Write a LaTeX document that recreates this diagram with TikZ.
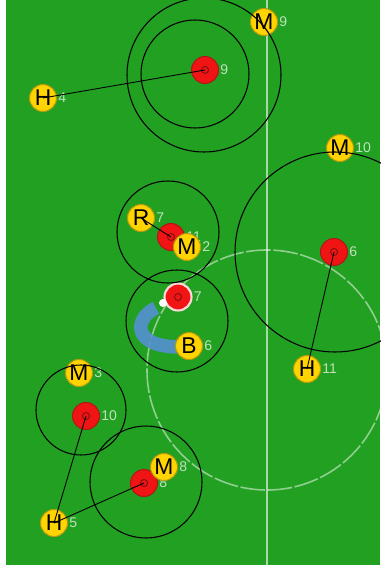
\documentclass[tikz,border=0pt]{standalone}
\usepackage{fontspec}
\usetikzlibrary{positioning}
\newfontfamily\plfont{Liberation Sans}

\definecolor{pitch}{HTML}{22A022}
\definecolor{redfill}{HTML}{F01414}
\definecolor{redborder}{HTML}{B01818}
\definecolor{yelfill}{HTML}{FFD400}
\definecolor{yelborder}{HTML}{B49A10}
\definecolor{bandblue}{HTML}{5490D2}

\begin{document}
\begin{tikzpicture}[x=0.02cm, y=-0.02cm,
    teama/.style={circle, draw=redborder, line width=0.6pt, fill=redfill,
                  minimum size=0.54cm, inner sep=0pt},
    teamb/.style={circle, draw=yelborder, line width=0.6pt, fill=yelfill,
                  minimum size=0.54cm, inner sep=0pt,
                  font=\plfont\fontsize{13}{13}\selectfont},
    num/.style={font=\plfont\fontsize{8}{8}\selectfont, text=white,
                text opacity=0.7, inner sep=0.5pt},
    zone/.style={draw=black, line width=0.6pt},
    link/.style={draw=black, line width=0.5pt},
    core/.style={draw=redborder!70!black, line width=0.5pt},
    band/.style={draw=bandblue, line width=0.27cm, opacity=0.9},
    chalk/.style={draw=white, opacity=0.6, line width=0.9pt},
    ball/.style={circle, fill=white, minimum size=0.16cm, inner sep=0pt},
]

% === Pitch ===
\useasboundingbox (0,0) rectangle (380,567);
\fill[white] (0,0) rectangle (380,567);
\fill[pitch] (6,0) rectangle (380,565);

% Halfway line and centre circle
\def\xmid{267}
\coordinate (top) at (\xmid,0);
\coordinate (bottom) at (\xmid,565);
\coordinate (spot) at (\xmid,370);
\draw[chalk, line width=1.1pt] (top) -- (bottom);
\draw[chalk, opacity=0.5, dash pattern=on 14pt off 1.5pt] (spot) circle[radius=120];

% --- Pass ---
\coordinate (kick) at (156,308);
\coordinate (stop) at (180,347);
\draw[band] (kick) .. controls (134,318) and (131,347) .. (stop);

% --- Red team ---
\foreach \n/\x/\y in {9/205/70, 6/334/252, 11/171/237, 10/86/416, 8/144/483} {
    \node[teama] (a\n) at (\x,\y) {};
    \draw[core] (a\n) circle[radius=3.5];
    \node[num, right=0pt of a\n] (na\n) {\n};
}
\node[teama, draw=white!85!red, line width=1.2pt] (a7) at (178,297) {};
\draw[core] (a7) circle[radius=3.5];
\node[num, right=0pt of a7] (na7) {7};

% --- Yellow team ---
\foreach \n/\l/\x/\y in {4/H/43/98, 9/M/264/22, 10/M/340/148, 7/R/141/218,
                          2/M/187/247, 6/B/189/346, 11/H/307/369, 3/M/79/373,
                          5/H/54/523, 8/M/164/467} {
    \node[teamb] (b\n) at (\x,\y) {\l};
    \node[num, right=0pt of b\n] (nb\n) {\n};
}

% Ball
\node[ball] (ball) at (163,303) {};

% --- Zones ---
\draw[zone] (204,75) circle[radius=77];
\draw[zone] (195,74) circle[radius=54];
\draw[zone] (335,252) circle[radius=100];
\draw[zone] (168,232) circle[radius=51];
\draw[zone] (177,321) circle[radius=51];
\draw[zone] (81,410) circle[radius=45];
\draw[zone] (146,482) circle[radius=56];

% --- Marking links ---
\draw[link] (a9.center) -- (b4.center);
\draw[link] (a6.center) -- (b11.center);
\draw[link] (a11.center) -- (b7.center);
\draw[link] (a10.center) -- (b5.center);
\draw[link] (a8.center) -- (b5.center);

\end{tikzpicture}
\end{document}
